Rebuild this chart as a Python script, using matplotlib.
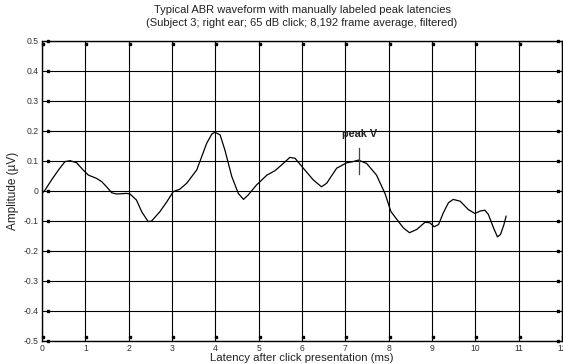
import matplotlib
matplotlib.use("Agg")
import matplotlib.pyplot as plt
import matplotlib.transforms as mtransforms

plt.rcParams['font.family'] = ['Liberation Sans', 'DejaVu Sans']

# ---- data ----
latency = [0.00, 0.07, 0.22, 0.38, 0.53, 0.65, 0.80, 0.95, 1.07, 1.26, 1.38, 1.49,
           1.61, 1.72, 1.95, 2.03, 2.18, 2.30, 2.45, 2.53, 2.72, 2.88, 3.03, 3.18,
           3.34, 3.57, 3.70, 3.80, 3.92, 3.99, 4.11, 4.22, 4.38, 4.53, 4.65, 4.76,
           4.95, 5.19, 5.38, 5.53, 5.72, 5.84, 6.03, 6.26, 6.45, 6.57, 6.80, 7.03,
           7.18, 7.30, 7.49, 7.72, 7.92, 8.05, 8.19, 8.34, 8.48, 8.65, 8.84, 8.95,
           9.05, 9.15, 9.26, 9.38, 9.49, 9.65, 9.84, 9.99, 10.11, 10.22, 10.30, 10.42,
           10.51, 10.58, 10.66, 10.71]
amplitude = [-0.008, 0.003, 0.037, 0.070, 0.098, 0.101, 0.094, 0.070, 0.053, 0.042, 0.031, 0.014,
             -0.006, -0.010, -0.008, -0.010, -0.030, -0.069, -0.102, -0.100, -0.069, -0.036, -0.002, 0.006,
             0.026, 0.070, 0.120, 0.159, 0.190, 0.196, 0.187, 0.137, 0.048, -0.008, -0.028, -0.013,
             0.020, 0.053, 0.068, 0.087, 0.112, 0.109, 0.076, 0.037, 0.014, 0.026, 0.076, 0.094,
             0.098, 0.103, 0.092, 0.053, -0.010, -0.068, -0.095, -0.123, -0.139, -0.128, -0.104, -0.106,
             -0.119, -0.112, -0.073, -0.039, -0.028, -0.034, -0.062, -0.075, -0.067, -0.064, -0.078, -0.123,
             -0.153, -0.145, -0.112, -0.084]

x_ticks = list(range(0, 13))
y_ticks = [-0.5, -0.4, -0.3, -0.2, -0.1, 0, 0.1, 0.2, 0.3, 0.4, 0.5]
y_tick_labels = ['-0.5', '-0.4', '-0.3', '-0.2', '-0.1', '0', '0.1', '0.2', '0.3', '0.4', '0.5']

peak_label = 'peak V'
peak_x = 7.32
peak_y_range = (0.057, 0.143)
peak_text_y = 0.19

title = ('Typical ABR waveform with manually labeled peak latencies\n'
         '(Subject 3; right ear; 65 dB click; 8,192 frame average, filtered)')
xlabel = 'Latency after click presentation (ms)'
ylabel = 'Amplitude (µV)'

# ---- figure ----
fig = plt.figure(figsize=(5.63, 3.64), dpi=100)
ax = fig.add_axes([42 / 563, 23 / 364, 520 / 563, 300 / 364])
ax.set_xlim(0, 12)
ax.set_ylim(-0.5, 0.5)

ax.set_xticks(x_ticks)
ax.set_yticks(y_ticks)
ax.set_yticklabels(y_tick_labels)
ax.tick_params(length=0, labelsize=6.2, labelcolor='#333333')
ax.tick_params(axis='y', pad=2.5)
ax.tick_params(axis='x', pad=2.5)

ax.grid(True, color='black', linewidth=0.8, linestyle='-')
ax.set_axisbelow(True)
for s in ax.spines.values():
    s.set_linewidth(1.0)
    s.set_color('black')

# square tick markers (MATLAB style)
def px(dx, dy):
    return mtransforms.ScaledTranslation(dx / 100, dy / 100, fig.dpi_scale_trans)

yt = mtransforms.blended_transform_factory(ax.transAxes, ax.transData)
xt = mtransforms.blended_transform_factory(ax.transData, ax.transAxes)
ax.plot([0] * len(y_ticks), y_ticks, 's', ms=1.8, color='black', transform=yt + px(6, 0), clip_on=False)
ax.plot([1] * len(y_ticks), y_ticks, 's', ms=1.8, color='black', transform=yt + px(-4, 0), clip_on=False)
ax.plot(x_ticks, [0] * len(x_ticks), 's', ms=1.8, color='black', transform=xt + px(1, 4), clip_on=False)
ax.plot(x_ticks, [1] * len(x_ticks), 's', ms=1.8, color='black', transform=xt + px(1, -3), clip_on=False)

# waveform
ax.plot(latency, amplitude, color='black', linewidth=0.9, zorder=3)

# peak label
ax.plot([peak_x, peak_x], list(peak_y_range), color='#444444', linewidth=0.9, zorder=3)
ax.text(peak_x, peak_text_y, peak_label, ha='center', va='center', fontsize=7.8,
        fontweight='bold', color='#222222')

ax.set_title(title, fontsize=8, color='#222222', pad=11, linespacing=1.3)
ax.set_xlabel(xlabel, fontsize=8.2, color='#222222', labelpad=0)
ax.set_ylabel(ylabel, fontsize=8.5, color='#222222', labelpad=3)

fig.savefig('out.png', dpi=100)
